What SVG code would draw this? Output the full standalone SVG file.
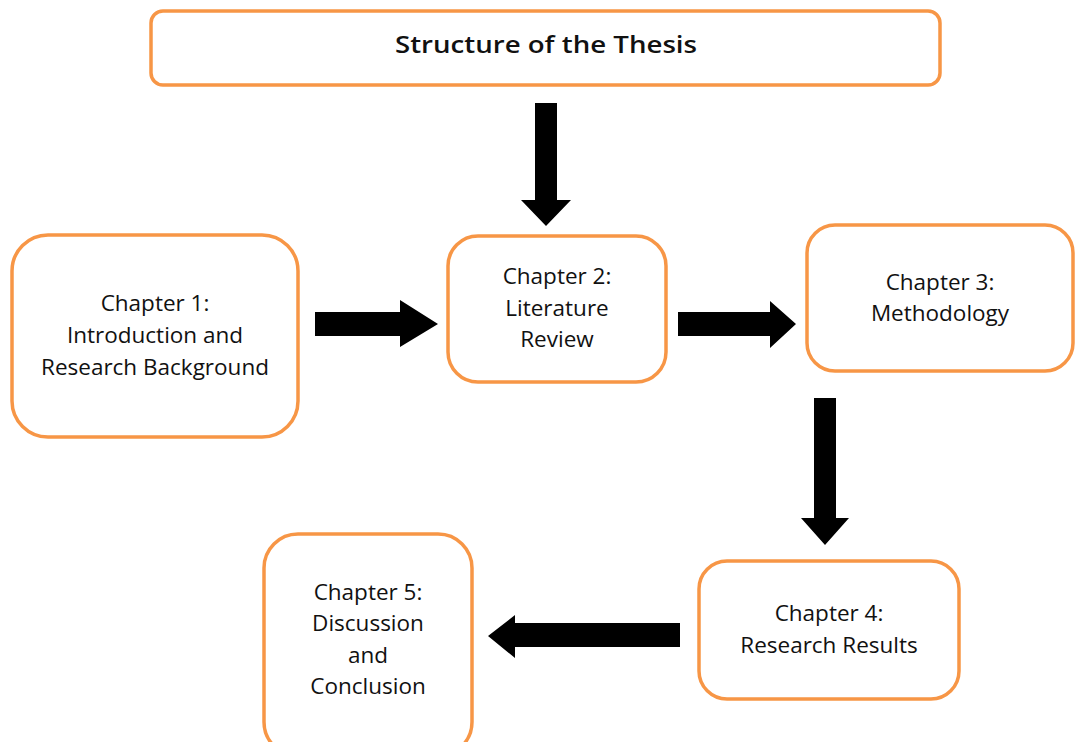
<svg xmlns="http://www.w3.org/2000/svg" width="1076" height="742" viewBox="0 0 1076 742">
<style>
.box{fill:#fff;stroke:#F79646;stroke-width:3.5}
.t{font-family:"Open Sans",Lato,"Liberation Sans",sans-serif;font-size:22.5px;font-weight:500;fill:#111;text-anchor:middle}
.title{font-size:23px;font-weight:600}
.arr{fill:#000}
</style>
<rect width="1076" height="742" fill="#fff"/>
<g id="title">
<rect class="box" x="151" y="11" width="789" height="74" rx="12"/>
<text class="t title" x="546" y="53" textLength="302" lengthAdjust="spacingAndGlyphs">Structure of the Thesis</text>
</g>
<g id="ch1">
<rect class="box" x="12" y="235" width="286" height="202" rx="36"/>
<text class="t" x="155" y="311">Chapter 1:</text>
<text class="t" x="155" y="343">Introduction and</text>
<text class="t" x="155" y="375">Research Background</text>
</g>
<g id="ch2">
<rect class="box" x="448" y="236" width="218" height="146" rx="30"/>
<text class="t" x="557" y="284">Chapter 2:</text>
<text class="t" x="557" y="316">Literature</text>
<text class="t" x="557" y="347">Review</text>
</g>
<g id="ch3">
<rect class="box" x="807" y="225" width="266" height="146" rx="28"/>
<text class="t" x="940" y="290">Chapter 3:</text>
<text class="t" x="940" y="321">Methodology</text>
</g>
<g id="ch4">
<rect class="box" x="699" y="561" width="260" height="138" rx="28"/>
<text class="t" x="829" y="621">Chapter 4:</text>
<text class="t" x="829" y="653">Research Results</text>
</g>
<g id="ch5">
<rect class="box" x="264" y="534" width="208" height="222" rx="34"/>
<text class="t" x="368" y="600">Chapter 5:</text>
<text class="t" x="368" y="631">Discussion</text>
<text class="t" x="368" y="663">and</text>
<text class="t" x="368" y="694">Conclusion</text>
</g>
<g id="connectors">
<polygon class="arr" points="535,103 557,103 557,200 571,200 546,226 521,200 535,200"/>
<polygon class="arr" points="315,312 400,312 400,300 438,324 400,347 400,336 315,336"/>
<polygon class="arr" points="678,312 770,312 770,301 796,324 770,348 770,336 678,336"/>
<polygon class="arr" points="814,398 836,398 836,518 849,518 825,545 801,518 814,518"/>
<polygon class="arr" points="680,623 515,623 515,615 488,636 515,658 515,647 680,647"/>
</g>
</svg>
